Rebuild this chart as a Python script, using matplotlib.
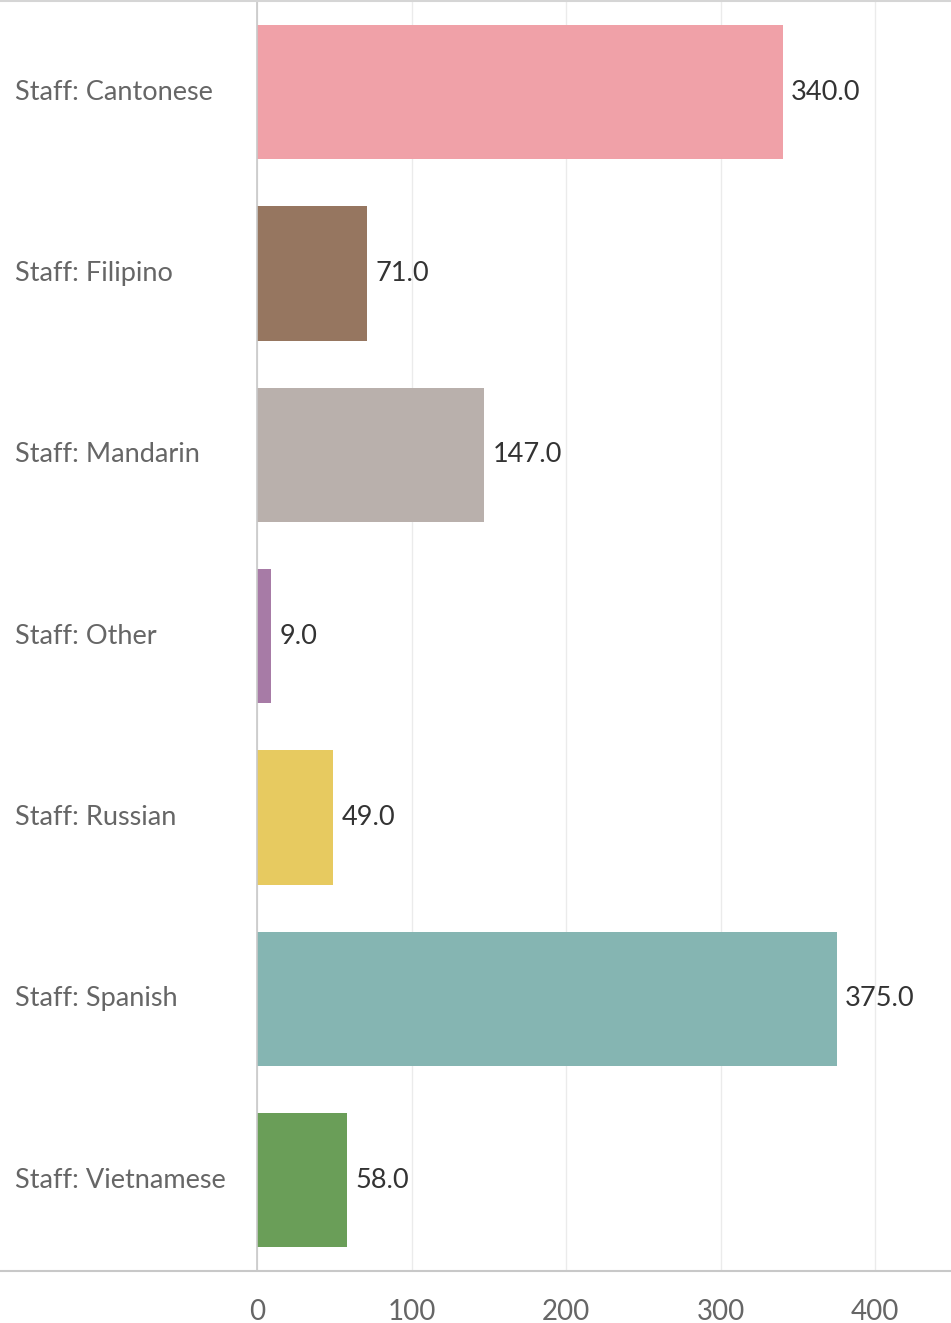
import matplotlib.pyplot as plt
from matplotlib.lines import Line2D
from matplotlib.transforms import blended_transform_factory

categories = ["Staff: Cantonese", "Staff: Filipino", "Staff: Mandarin", "Staff: Other",
              "Staff: Russian", "Staff: Spanish", "Staff: Vietnamese"]
values = [340.0, 71.0, 147.0, 9.0, 49.0, 375.0, 58.0]
colors = ["#F0A1A8", "#967660", "#B9B0AC", "#A77BA6", "#E7CA60", "#85B5B2", "#6A9E58"]
xticks = [0, 100, 200, 300, 400]

plt.rcParams['font.family'] = ['Lato', 'DejaVu Sans']

fig = plt.figure(figsize=(9.51, 13.23), dpi=100)
ax = fig.add_axes([257 / 951, 1 - 1271 / 1323, 1 - 257 / 951, 1271 / 1323 - 0.001])

y = range(len(categories))
ax.barh(y, values, height=0.74, color=colors, zorder=2)
for i, v in enumerate(values):
    ax.text(v + 5.5, i, f"{v:.1f}", va="center", ha="left", fontsize=19.5, color="#333333")

ax.set_ylim(len(categories) - 0.5, -0.5)
ax.set_xlim(0, 449)
ax.set_xticks(xticks)
ax.set_xticklabels([str(t) for t in xticks])
ax.set_yticks(list(y))
ax.set_yticklabels([])
ax.tick_params(axis="y", length=0)
ax.tick_params(axis="x", length=0, pad=20, labelsize=20, labelcolor="#666666")

# category labels start near the left edge of the figure
trans = blended_transform_factory(fig.transFigure, ax.transData)
for i, c in enumerate(categories):
    ax.text(15 / 951, i, c, transform=trans, va="center", ha="left",
            fontsize=19.5, color="#666666")

ax.grid(axis="x", color="#EBEBEB", linewidth=1, zorder=0)
for s in ["top", "right", "bottom"]:
    ax.spines[s].set_visible(False)
ax.spines["left"].set_color("#C8C8C8")
ax.spines["left"].set_linewidth(1.2)

# full-width rules at the top and bottom of the view
ybot = 1 - 1271 / 1323
fig.add_artist(Line2D([0, 1], [ybot, ybot], color="#C8C8C8", linewidth=1.5, transform=fig.transFigure))
fig.add_artist(Line2D([0, 1], [0.9992, 0.9992], color="#D5D5D5", linewidth=1.5, transform=fig.transFigure))

fig.savefig("out.png", dpi=100)
